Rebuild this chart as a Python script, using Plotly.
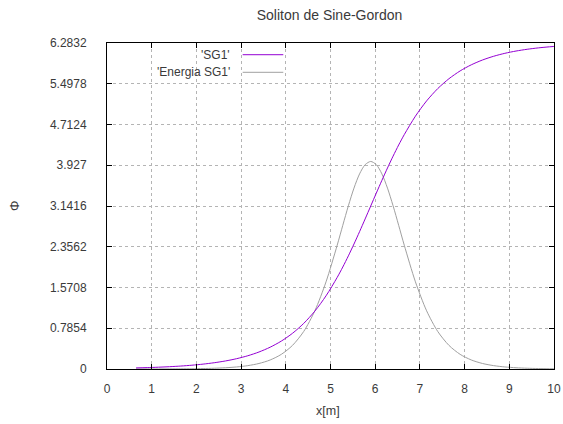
import plotly.graph_objects as go

# Sampled positions along the line [m] (denser around the kink centre)
x = [0.65, 0.9, 1.15, 1.4, 1.65, 1.9, 2.15, 2.4, 2.65, 2.9, 3.15, 3.4, 3.65,
     3.9, 4.15, 4.4, 4.65, 4.9, 5.15, 5.275, 5.4, 5.525, 5.65, 5.775, 5.9,
     6.025, 6.15, 6.275, 6.4, 6.525, 6.65, 6.9,
     7.15, 7.4, 7.65, 7.9, 8.15, 8.4, 8.65, 8.9, 9.15, 9.4, 9.65, 9.9, 10.15]

# Field profile of the kink
sg1 = [0.0210, 0.0270, 0.0346, 0.0445, 0.0571, 0.0733, 0.0941, 0.1208, 0.1550,
       0.1990, 0.2554, 0.3276, 0.4201, 0.5381, 0.6882, 0.8782, 1.1159, 1.4101,
       1.7660, 1.9655, 2.1809, 2.4086, 2.6467, 2.8922, 3.1416,
       3.3910, 3.6365, 3.8746, 4.1023, 4.3177, 4.5172, 4.8731, 5.1673,
       5.4050, 5.5950, 5.7451, 5.8631, 5.9556, 6.0278, 6.0842, 6.1282, 6.1624,
       6.1891, 6.2099, 6.2261]

# Energy density of the kink
energia_sg1 = [0.0004, 0.0007, 0.0012, 0.0020, 0.0033, 0.0054, 0.0088, 0.0146,
               0.0240, 0.0395, 0.0649, 0.1064, 0.1739, 0.2826, 0.4553, 0.7228,
               1.1217, 1.6799, 2.3864, 2.7697, 3.1458, 3.4864, 3.7601, 3.9382,
               4.0000, 3.9382, 3.7601, 3.4864, 3.1458, 2.7697,
               2.3864, 1.6799, 1.1217, 0.7228, 0.4553, 0.2826, 0.1739, 0.1064,
               0.0649, 0.0395, 0.0240, 0.0146, 0.0088, 0.0054, 0.0033]

x_ticks = list(range(0, 11))
y_ticks = [0, 0.7854, 1.5708, 2.3562, 3.1416, 3.927, 4.7124, 5.4978, 6.2832]
y_tick_labels = ["0", "0.7854", "1.5708", "2.3562", "3.1416", "3.927",
                 "4.7124", "5.4978", "6.2832"]

series_names = ["'SG1'", "'Energia SG1'"]
series_colors = ["#9400d3", "#a0a0a0"]

FONT = "Liberation Sans, Arial, sans-serif"
TEXT = "#3a3a3a"

fig = go.Figure()
fig.add_trace(go.Scatter(x=x, y=energia_sg1, mode="lines", name=series_names[1],
                         line=dict(color=series_colors[1], width=1, shape="spline", smoothing=0.8)))
fig.add_trace(go.Scatter(x=x, y=sg1, mode="lines", name=series_names[0],
                         line=dict(color=series_colors[0], width=1, shape="spline", smoothing=0.8)))

axis_common = dict(
    showline=True, linecolor="#000000", linewidth=1, mirror="ticks",
    ticks="inside", ticklen=5, tickcolor="#000000", tickwidth=1,
    showgrid=True, gridcolor="#b4b4b4", griddash="dot", gridwidth=1,
    zeroline=False, automargin=False,
    tickfont=dict(family=FONT, size=12, color=TEXT),
)

fig.update_xaxes(range=[0, 10], tickvals=x_ticks, ticklabelstandoff=9, **axis_common)
fig.update_yaxes(range=[0, 6.2832], tickvals=y_ticks, ticktext=y_tick_labels,
                 ticklabelstandoff=17, **axis_common)

# Key in the upper-left corner: label first, line sample on its right
key_rows = [0.9641, 0.9101]
for name, color, ky in zip(series_names, series_colors, key_rows):
    fig.add_annotation(xref="paper", yref="paper", x=0.2796, y=ky, text=name,
                       showarrow=False, xanchor="right", yanchor="middle",
                       font=dict(family=FONT, size=12, color=TEXT))
    fig.add_shape(type="line", xref="paper", yref="paper", x0=0.3035, x1=0.3944,
                  y0=ky, y1=ky, line=dict(color=color, width=1))

# Axis labels
fig.add_annotation(xref="paper", yref="paper", x=0.4955, y=-0.1288, text="x[m]",
                   showarrow=False, xanchor="center", yanchor="middle",
                   font=dict(family=FONT, size=12.5, color=TEXT))
fig.add_annotation(xref="paper", yref="paper", x=-0.208, y=0.5, text="Φ",
                   textangle=-90, showarrow=False, xanchor="center", yanchor="middle",
                   font=dict(family=FONT, size=13, color=TEXT))

fig.update_layout(
    width=563, height=424,
    margin=dict(l=107, r=9, t=43, b=55),
    paper_bgcolor="#ffffff", plot_bgcolor="#ffffff",
    showlegend=False,
    title=dict(text="Soliton de Sine-Gordon", xref="container", yref="container",
               x=0.5853, y=0.9646, xanchor="center", yanchor="middle",
               font=dict(family=FONT, size=14, color=TEXT)),
)

fig.write_html("out.html")
